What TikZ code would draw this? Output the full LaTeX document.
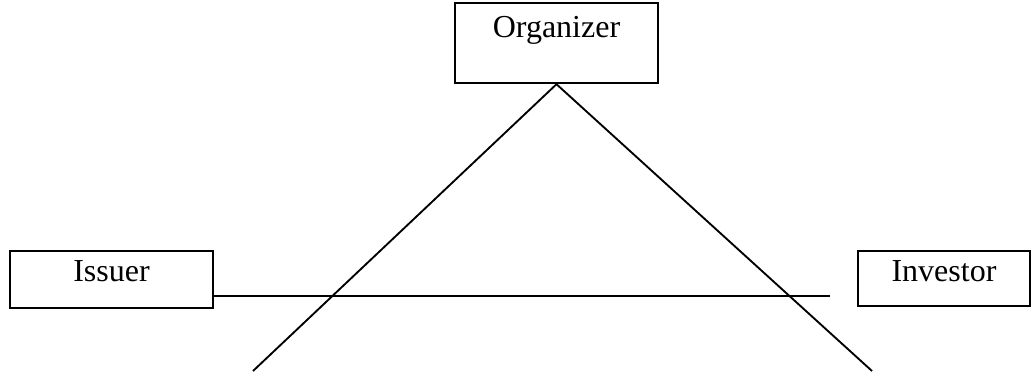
\documentclass[tikz,border=0pt]{standalone}
\usepackage{fontspec}
\setmainfont{Liberation Serif}
\usetikzlibrary{positioning, calc}

\begin{document}
\begin{tikzpicture}[
  x=0.375pt, y=-0.375pt,
  party/.style={rectangle, draw, line width=0.9pt, inner sep=0pt, font=\fontsize{12}{14}\selectfont},
  link/.style={line width=0.7pt},
]
\useasboundingbox (0,0) rectangle (1036,371);

\node[party, minimum width=76pt, text height=13pt, text depth=17pt] (organizer) at (556.5,43) {Organizer};
\node[party, minimum width=76pt, text height=11.6pt, text depth=9.8pt] (issuer) at (111.5,279.5) {Issuer};
\node[party, minimum width=64.5pt, text height=11.6pt, text depth=9pt] (investor) at (944,278.5) {Investor};

\coordinate (leftend) at (253,371);
\coordinate (rightend) at (872,371);
\coordinate (midend) at (830,296);

\draw[link] (issuer.east |- midend) -- (midend);
\draw[link] (organizer.south) -- (leftend);
\draw[link] (organizer.south) -- (rightend);

\end{tikzpicture}
\end{document}
